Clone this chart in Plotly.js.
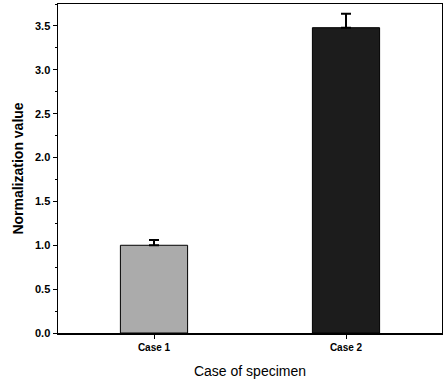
<!DOCTYPE html>
<html>
<head>
<meta charset="utf-8">
<script src="https://cdn.plot.ly/plotly-3.0.1.min.js"></script>
<style>html,body{margin:0;padding:0;background:#fff;}#chart{width:443px;height:385px;}</style>
</head>
<body>
<div id="chart"></div>
<script>
var categories = ["Case 1", "Case 2"];
var values = [1.0, 3.48];
var errors = [0.06, 0.16];
var errorsMinus = [0, 0];
var barColors = ["#ababab", "#1c1c1c"];
var yTickVals = [0, 0.5, 1.0, 1.5, 2.0, 2.5, 3.0, 3.5];
var yTickText = ["0.0", "0.5", "1.0", "1.5", "2.0", "2.5", "3.0", "3.5"];

var trace = {
  type: "bar",
  x: categories,
  y: values,
  width: 0.35,
  marker: {
    color: barColors,
    line: {color: "#000", width: 1}
  },
  error_y: {type: "data", symmetric: false, array: errors, arrayminus: errorsMinus, visible: true, color: "#000", thickness: 2, width: 5}
};

var layout = {
  width: 443, height: 385,
  margin: {l: 58, r: 1, t: 4, b: 52},
  paper_bgcolor: "#fff", plot_bgcolor: "#fff",
  showlegend: false,
  font: {family: "Liberation Sans, Arial, sans-serif", color: "#000"},
  xaxis: {
    type: "category",
    range: [-0.5, 1.5],
    showline: true, linecolor: "#000", linewidth: 1.5, mirror: true,
    ticks: "outside", ticklen: 4, tickwidth: 1, tickcolor: "#000",
    tickfont: {size: 10, family: "Liberation Sans, Arial, sans-serif", weight: "bold"},
    showgrid: false, zeroline: false,
    title: {text: "Case of specimen", font: {size: 14}, standoff: 14}
  },
  yaxis: {
    range: [0, 3.75],
    tickvals: yTickVals, ticktext: yTickText,
    showline: true, linecolor: "#000", linewidth: 1.5, mirror: true,
    ticks: "outside", ticklen: 4, tickwidth: 1, tickcolor: "#000",
    minor: {dtick: 0.25, ticks: "outside", ticklen: 2, tickcolor: "#000", showgrid: false},
    tickfont: {size: 11, family: "Liberation Sans, Arial, sans-serif", weight: "bold"},
    showgrid: false, zeroline: false,
    title: {text: "Normalization value", font: {size: 14, weight: "bold"}, standoff: 8}
  }
};

Plotly.newPlot("chart", [trace], layout, {displayModeBar: false, staticPlot: true});
</script>
</body>
</html>
